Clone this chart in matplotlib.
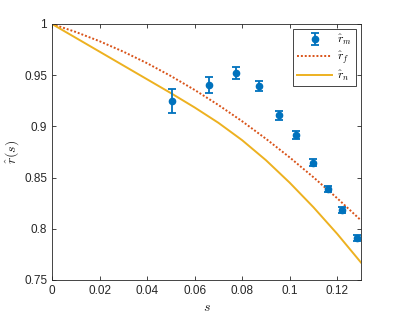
import numpy as np
import matplotlib
matplotlib.use("Agg")
import matplotlib.pyplot as plt

plt.rcParams['font.family'] = ['Liberation Sans', 'DejaVu Sans']
plt.rcParams['mathtext.fontset'] = 'cm'

# measured points with error bars
s_m = [0.0503, 0.0662, 0.0772, 0.0870, 0.0953, 0.1025, 0.1098, 0.1163, 0.1221, 0.1282]
r_m = [0.9248, 0.9405, 0.9523, 0.9392, 0.9108, 0.8915, 0.8647, 0.8390, 0.8180, 0.7910]
r_m_err = [0.0120, 0.0078, 0.0057, 0.0050, 0.0045, 0.0040, 0.0035, 0.0030, 0.0030, 0.0028]

# curves
s_line = [0.0, 0.01, 0.02, 0.03, 0.04, 0.05, 0.06, 0.07, 0.08, 0.09, 0.10, 0.11, 0.12, 0.13]
r_f = [1.0, 0.9922, 0.9832, 0.9730, 0.9617, 0.9492, 0.9356, 0.9209, 0.9050, 0.8879,
       0.8697, 0.8503, 0.8298, 0.8082]
r_n = [1.0, 0.9865, 0.9730, 0.9595, 0.9460, 0.9325, 0.9185, 0.9035, 0.8865, 0.8670,
       0.8450, 0.8210, 0.7950, 0.7670]

x_ticks = [0, 0.02, 0.04, 0.06, 0.08, 0.1, 0.12]
y_ticks = [0.75, 0.8, 0.85, 0.9, 0.95, 1]

blue = '#0072BD'
red = '#D95319'
yellow = '#EDB120'
axcol = '#262626'

fig = plt.figure(figsize=(3.99, 3.19), dpi=100)
ax = fig.add_axes([0.1303, 0.1223, 0.7745, 0.8025])

h_m = ax.errorbar(s_m, r_m, yerr=r_m_err, fmt='o', color=blue, ms=4.5, lw=1.3,
                  capsize=3, capthick=1.3, label=r'$\hat{r}_m$', zorder=3)
h_f, = ax.plot(s_line, r_f, color=red, lw=1.4, ls=(0, (1, 1)), label=r'$\hat{r}_f$')
h_n, = ax.plot(s_line, r_n, '-', color=yellow, lw=1.4, label=r'$\hat{r}_n$')

ax.set_xlim(0, 0.13)
ax.set_ylim(0.75, 1)
ax.set_xticks(x_ticks)
ax.set_yticks(y_ticks)
ax.set_xticklabels(['%g' % v for v in x_ticks])
ax.set_yticklabels(['%g' % v for v in y_ticks])

ax.tick_params(direction='in', length=3, width=0.6, colors=axcol, labelsize=8.5,
               top=True, right=True, labeltop=False, labelright=False)
for sp in ax.spines.values():
    sp.set_color(axcol)
    sp.set_linewidth(0.6)

ax.set_xlabel(r'$s$', fontsize=10, color=axcol, labelpad=2)
ax.set_ylabel(r'$\hat{r}(s)$', fontsize=10, color=axcol, labelpad=2)

leg = ax.legend([h_m, h_f, h_n], [r'$\hat{r}_m$', r'$\hat{r}_f$', r'$\hat{r}_n$'],
                loc='upper right', fontsize=8.5, frameon=True, fancybox=False,
                edgecolor=axcol, framealpha=1, handlelength=3.0, borderpad=0.3,
                labelspacing=0.2, handletextpad=0.4, borderaxespad=0.45)
leg.get_frame().set_linewidth(0.6)

fig.savefig('out.png', dpi=100)
